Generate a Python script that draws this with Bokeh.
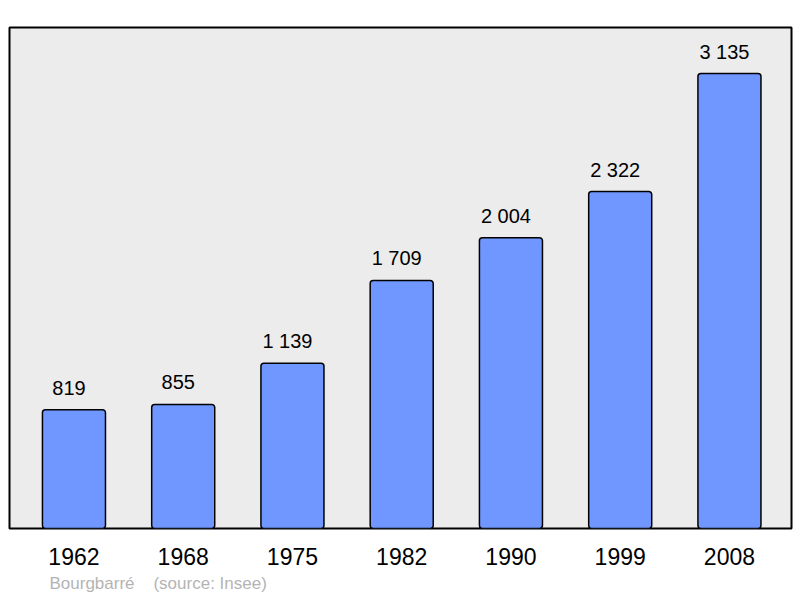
from bokeh.plotting import figure
from bokeh.models import Range1d, ColumnDataSource, Title
from bokeh.embed import file_html
from bokeh.resources import INLINE
from bokeh.core.properties import value

years = ["1962", "1968", "1975", "1982", "1990", "1999", "2008"]
population = [819, 855, 1139, 1709, 2004, 2322, 3135]
place = "Bourgbarré"
source_note = "(source: Insee)"

def fmt(v):
    return f"{v:,}".replace(",", " ")

idx = list(range(len(years)))
src = ColumnDataSource(dict(x=idx, top=population, lab=[fmt(v) for v in population]))

FONT = "Liberation Sans"

p = figure(width=800, height=598, output_backend="svg", toolbar_location=None,
           x_range=Range1d(-0.590, 6.568), y_range=Range1d(0, 3452),
           min_border_left=9, min_border_right=9, min_border_top=27, min_border_bottom=70)

p.background_fill_color = "#ececec"
p.border_fill_color = "white"
p.outline_line_color = "black"
p.outline_line_width = 2
p.xgrid.visible = False
p.ygrid.visible = False
p.yaxis.visible = False

p.vbar(x="x", top="top", width=0.577, source=src, border_radius=3,
       fill_color="#7097ff", line_color="black", line_width=1.5)

p.text(x="x", y="top", text="lab", source=src, y_offset=-22, x_offset=-5,
       text_align="center", text_baseline="middle",
       text_font=value(FONT), text_font_size="20px", text_color="black")

ax = p.xaxis[0]
ax.ticker = idx
ax.major_label_overrides = {i: y for i, y in zip(idx, years)}
ax.axis_line_color = None
ax.major_tick_line_color = None
ax.minor_tick_line_color = None
ax.major_label_text_font = FONT
ax.major_label_text_font_size = "23px"
ax.major_label_text_color = "black"
ax.major_label_standoff = 13

footer = Title(text=place + "\u00a0" * 4 + source_note, align="left", offset=40,
               text_font=FONT, text_font_size="17px", text_font_style="normal",
               text_color="#b4b4b4", standoff=9)
p.add_layout(footer, "below")

open("out.html", "w").write(file_html(p, INLINE))
